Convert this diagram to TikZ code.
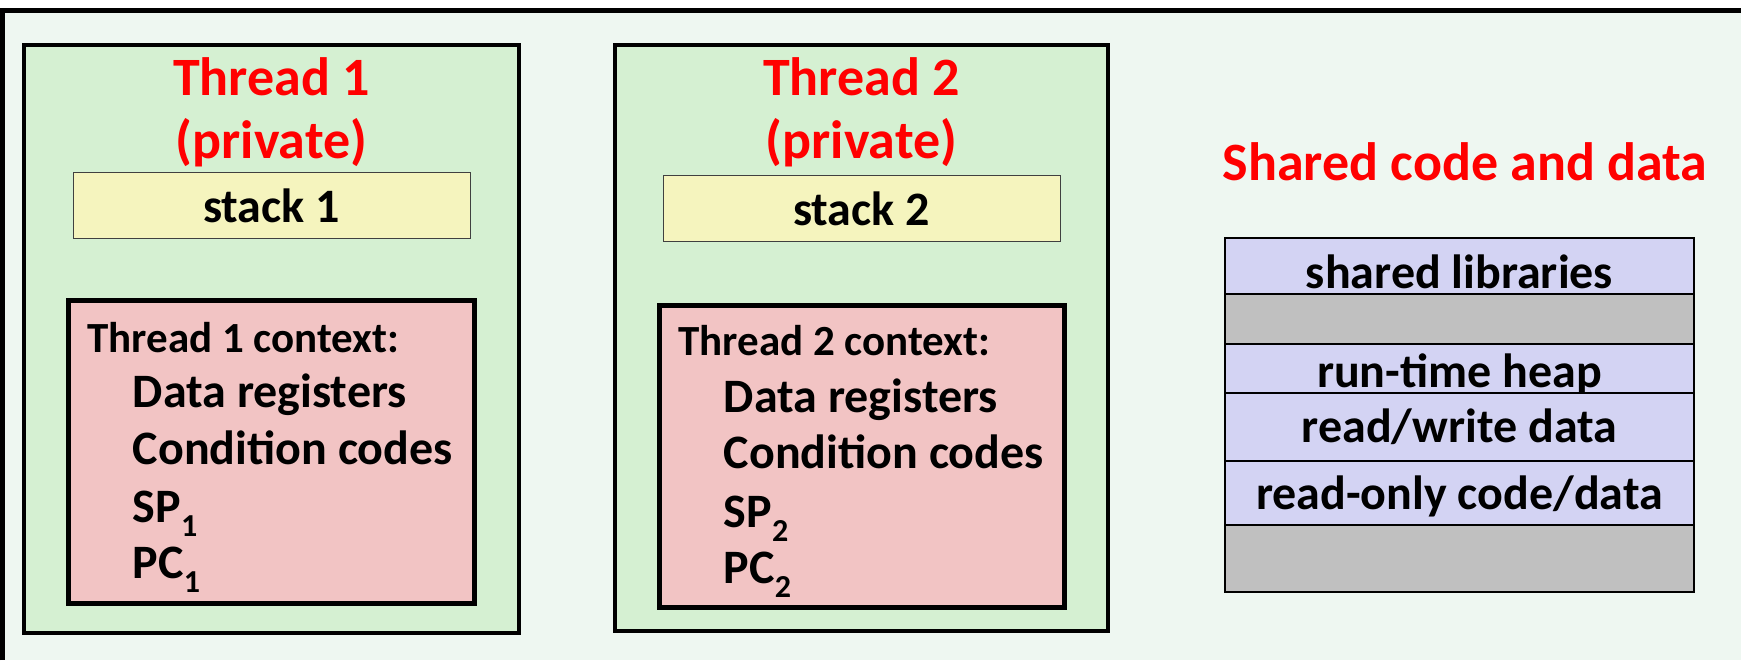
\documentclass[tikz,border=0pt]{standalone}
\usepackage{fontspec}
\setmainfont{Carlito}
\definecolor{outerbg}{RGB}{238,247,241}
\definecolor{threadfill}{RGB}{213,240,210}
\definecolor{stackfill}{RGB}{245,244,190}
\definecolor{ctxfill}{RGB}{242,196,196}
\definecolor{lav}{RGB}{211,211,243}
\definecolor{grayrow}{RGB}{192,192,192}
\definecolor{titlered}{RGB}{255,0,0}
\newcommand{\subx}[1]{\raisebox{-0.3em}{\fontsize{16}{16}\selectfont #1}}
\tikzset{
  threadbox/.style={draw=black, line width=2pt, fill=threadfill, inner sep=0pt},
  ctxbox/.style={draw=black, line width=2.5pt, fill=ctxfill, inner sep=0pt},
  stackbox/.style={draw=black!75, line width=0.5pt, fill=stackfill, inner sep=0pt},
  rowbox/.style={draw=black, line width=0.6pt, fill=lav, inner sep=0pt, minimum width=234.5pt},
  grbox/.style={rowbox, fill=grayrow},
  ttl/.style={text=titlered, font=\bfseries\fontsize{27}{32}\selectfont, anchor=base, inner sep=0pt},
  stk/.style={font=\bfseries\fontsize{24}{28}\selectfont, anchor=base, inner sep=0pt},
  ctxhead/.style={font=\bfseries\fontsize{21.5}{26}\selectfont, anchor=base west, inner sep=0pt},
  ctxitem/.style={font=\bfseries\fontsize{24}{28}\selectfont, anchor=base west, inner sep=0pt},
  rowtxt/.style={font=\bfseries\fontsize{24}{28}\selectfont, anchor=base, inner sep=0pt},
}
\begin{document}
\begin{tikzpicture}[x=0.5pt,y=-0.5pt]
\useasboundingbox (0,0) rectangle (1741,660);
\fill[outerbg] (0,8) rectangle (1741,660);
\draw[line width=2.5pt] (2,660) -- (2,10.5) -- (1741,10.5);

% Thread 1
\node[threadbox, minimum width=247.5pt, minimum height=294pt] (t1) at (271.5,339) {};
\node[ttl] (t1a) at (271.5,95) {Thread 1};
\node[ttl] (t1b) at (271.5,158) {(private)};
\node[stackbox, minimum width=198.5pt, minimum height=33pt] (s1) at (271.5,205.5) {};
\node[stk] (s1t) at (271.5,222) {stack 1};
\node[ctxbox, minimum width=203.2pt, minimum height=151.5pt] (c1) at (271.5,452) {};
\node[ctxhead] (c1h) at (87,352) {Thread 1 context:};
\node[ctxitem] (c1a) at (132.5,407) {Data registers};
\node[ctxitem] (c1b) at (132.5,464) {Condition codes};
\node[ctxitem] (c1c) at (132.5,522) {SP\subx{1}};
\node[ctxitem] (c1d) at (132.5,578) {PC\subx{1}};

% Thread 2
\node[threadbox, minimum width=246.5pt, minimum height=293pt] (t2) at (861.5,338) {};
\node[ttl] (t2a) at (861.5,95) {Thread 2};
\node[ttl] (t2b) at (861.5,158) {(private)};
\node[stackbox, minimum width=198.5pt, minimum height=33pt] (s2) at (861.5,208.5) {};
\node[stk] (s2t) at (861.5,225) {stack 2};
\node[ctxbox, minimum width=202.75pt, minimum height=151pt] (c2) at (861.75,456.5) {};
\node[ctxhead] (c2h) at (678,355) {Thread 2 context:};
\node[ctxitem] (c2a) at (723.5,412) {Data registers};
\node[ctxitem] (c2b) at (723.5,468) {Condition codes};
\node[ctxitem] (c2c) at (723.5,527) {SP\subx{2}};
\node[ctxitem] (c2d) at (723.5,583) {PC\subx{2}};

% Shared
\node[ttl] (sh) at (1465,180) {Shared code and data};
\node[rowbox, minimum height=28pt] (r1) at (1459.5,266) {};
\node[rowtxt] (r1t) at (1459.5,288) {shared libraries};
\node[grbox, minimum height=25pt] (r2) at (1459.5,319) {};
\node[rowbox, minimum height=24.5pt] (r3) at (1459.5,368.5) {};
\node[rowtxt] (r3t) at (1459.5,387) {run-time heap};
\node[rowbox, minimum height=34pt] (r4) at (1459.5,427) {};
\node[rowtxt] (r4t) at (1459.5,442) {read/write data};
\node[rowbox, minimum height=32pt] (r5) at (1459.5,493) {};
\node[rowtxt] (r5t) at (1459.5,509) {read-only code/data};
\node[grbox, minimum height=33.5pt] (r6) at (1459.5,558.5) {};
\end{tikzpicture}
\end{document}
